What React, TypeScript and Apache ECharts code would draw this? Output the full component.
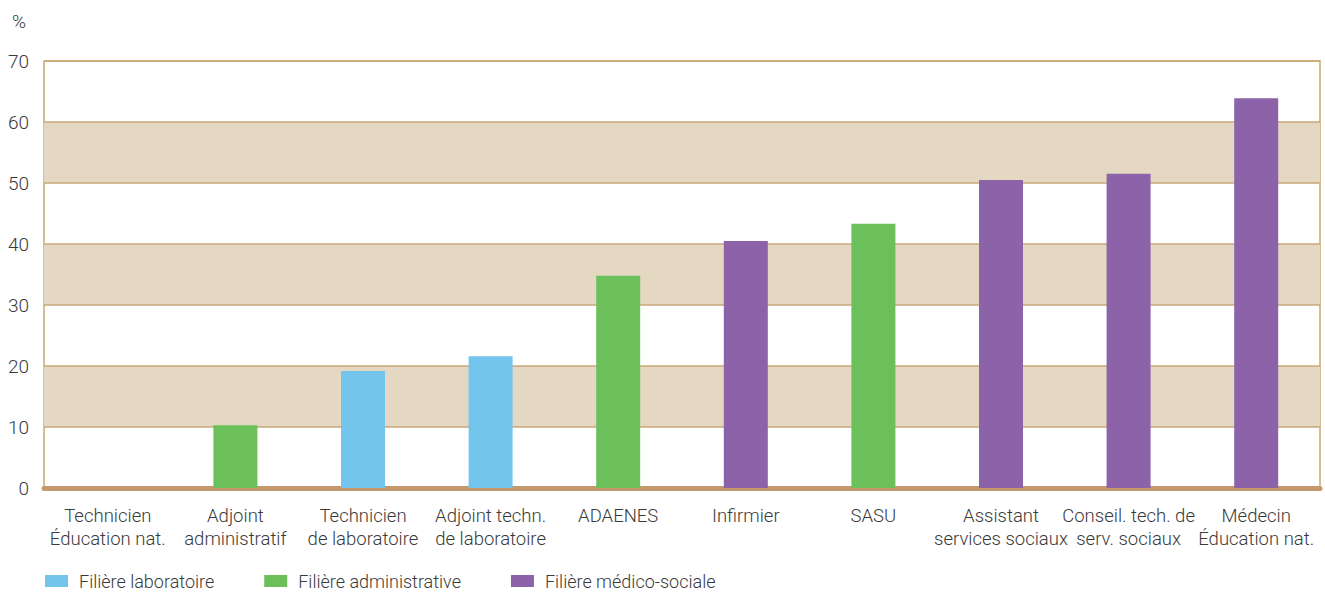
import React, { useEffect, useRef } from "react";
import * as echarts from "echarts";

const categories = [
  "Technicien\nÉducation nat.",
  "Adjoint\nadministratif",
  "Technicien\nde laboratoire",
  "Adjoint techn.\nde laboratoire",
  "ADAENES",
  "Infirmier",
  "SASU",
  "Assistant\nservices sociaux",
  "Conseil. tech. de\nserv. sociaux",
  "Médecin\nÉducation nat.",
];
const seriesNames = ["Filière laboratoire", "Filière administrative", "Filière médico-sociale"];
const laboratoire: (number | string)[] = ["-", "-", 19.2, 21.6, "-", "-", "-", "-", "-", "-"];
const administrative: (number | string)[] = ["-", 10.3, "-", "-", 34.8, "-", 43.3, "-", "-", "-"];
const medicoSociale: (number | string)[] = [0, "-", "-", "-", "-", 40.5, "-", 50.5, 51.5, 63.9];
const yTicks = { min: 0, max: 70, interval: 10 };

const FONT = "Roboto, 'Liberation Sans', Arial, sans-serif";
const colors = ["#73c5ee", "#6cc05c", "#8c62a9"];

export default function App() {
  const ref = useRef<HTMLDivElement>(null);
  useEffect(() => {
    const chart = echarts.init(ref.current!, null, { renderer: "svg" });
    const data = [laboratoire, administrative, medicoSociale];
    chart.setOption({
      animation: false,
      textStyle: { fontFamily: FONT },
      grid: {
        left: 44,
        right: 5,
        top: 61,
        bottom: 106,
        show: true,
        borderColor: "#c8a878",
        borderWidth: 1.5,
        backgroundColor: "transparent",
      },
      legend: {
        left: 40,
        top: 570,
        padding: [2, 5, 1, 5],
        itemWidth: 23,
        itemHeight: 12,
        itemGap: 50,
        icon: "rect",
        textStyle: { fontFamily: FONT, fontSize: 18, fontWeight: 300, color: "#3a3a3a", padding: [0, 0, 0, 6] },
        data: seriesNames,
      },
      graphic: [
        {
          type: "text",
          left: 12,
          top: 12,
          style: { text: "%", font: `300 19px ${FONT}`, fill: "#3a3a3a" },
        },
      ],
      xAxis: {
        type: "category",
        data: categories,
        axisLine: { show: true, lineStyle: { color: "#c49a6c", width: 5 } },
        axisTick: { show: false },
        axisLabel: {
          interval: 0,
          margin: 16,
          fontSize: 18.5,
          fontWeight: 300,
          lineHeight: 23,
          color: "#3a3a3a",
          fontFamily: FONT,
        },
      },
      yAxis: {
        type: "value",
        min: yTicks.min,
        max: yTicks.max,
        interval: yTicks.interval,
        axisLine: { show: false },
        axisTick: { show: false },
        axisLabel: { margin: 15, fontSize: 19, fontWeight: 300, color: "#3a3a3a", fontFamily: FONT },
        splitLine: { show: true, lineStyle: { color: "#c8a878", width: 1.5 } },
        splitArea: { show: true, areaStyle: { color: ["rgba(255,255,255,0)", "#e4d8c2"] } },
      },
      series: seriesNames.map((name, i) => ({
        name,
        type: "bar",
        stack: "all",
        barWidth: 44,
        itemStyle: { color: colors[i] },
        data: data[i],
      })),
    });
    return () => chart.dispose();
  }, []);
  return <div ref={ref} style={{ width: 1325, height: 594, position: "absolute", left: 0, top: 0 }} />;
}
